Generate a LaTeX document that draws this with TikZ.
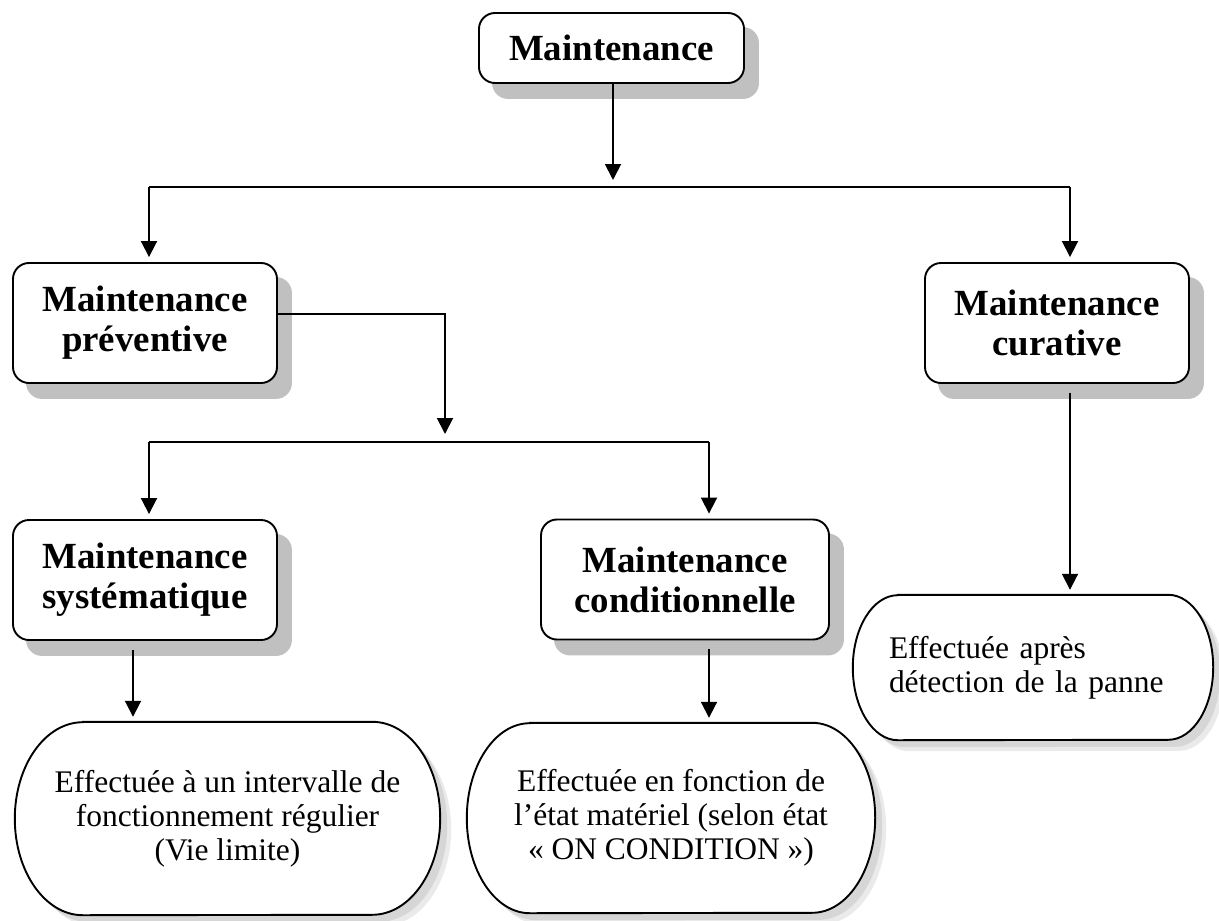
\documentclass[tikz,border=0pt]{standalone}
\usepackage{fontspec}
\setmainfont{Liberation Serif}
\usetikzlibrary{arrows.meta}
\pgfdeclarelayer{background}
\pgfsetlayers{background,main}

% stadium outline around a node: #1 options, #2 node, #3 end x-radius, #4 end y-radius, #5/#6 offset
\newcommand\stadium[6]{%
  \path[#1] ([shift={(#3+#5,#6)}]#2.north west) -- ([shift={(-#3+#5,#6)}]#2.north east)
    arc[start angle=-90,end angle=90,x radius=#3,y radius=#4]
    -- ([shift={(#3+#5,#6)}]#2.south west)
    arc[start angle=90,end angle=270,x radius=#3,y radius=#4] -- cycle;}

\definecolor{boxshadow}{HTML}{C0C0C0}
\definecolor{ovalshadow}{HTML}{D6D6D6}
\definecolor{ovalhaze}{HTML}{EAEAEA}

\begin{document}
\begin{tikzpicture}[x=1bp,y=-1bp,
  box/.style={draw, line width=1.9bp, fill=white, rounded corners=16bp,
    minimum width=264bp, minimum height=120bp, inner sep=0pt, align=center,
    font=\fontsize{37}{40}\selectfont\bfseries},
  ovaltext/.style={inner sep=0pt, align=center,
    font=\fontsize{31.6}{34}\selectfont},
  link/.style={line width=1.9bp},
  arr/.style={link, -{Triangle[width=16bp,length=16bp]}, shorten >=5bp},
  shade/.style={fill=boxshadow, rounded corners=16bp},
]
\useasboundingbox (0,0) rectangle (1219,921);

% boxes
\node[box, minimum width=265bp, minimum height=70bp] (main) at (611.5,48) {Maintenance};
\node[box] (prev) at (145,323) {Maintenance\\préventive};
\node[box] (cur)  at (1057,323) {Maintenance\\curative};
\node[box] (sys)  at (145,580) {Maintenance\\systématique};
\node[box, minimum width=288bp] (cond) at (685,579.5) {Maintenance\\conditionnelle};

% descriptions
\node[ovaltext, minimum width=425bp, minimum height=193bp] (o1) at (227.5,818.5)
  {Effectuée à un intervalle de\\fonctionnement régulier\\(Vie limite)};
\node[ovaltext, minimum width=408bp, minimum height=190bp] (o2) at (671,818)
  {Effectuée en fonction de\\l’état matériel (selon état\\«~ON CONDITION~»)};
\node[ovaltext, minimum width=360bp, minimum height=145bp, text width=288bp, align=left] (o3) at (1033,667.5)
  {Effectuée après\\détection de la panne};

% bus junctions
\coordinate (j1) at (613,187);
\coordinate (bl1) at (149,187);
\coordinate (br1) at (1070,187);
\coordinate (j2) at (445,442);
\coordinate (bl2) at (149,442);
\coordinate (br2) at (709,442);

% connectors
\draw[arr, shorten >=7bp] (main.south -| j1) -- (j1);
\draw[link] (bl1) -- (br1);
\draw[arr] (bl1) -- (bl1 |- prev.north);
\draw[arr] (br1) -- (br1 |- cur.north);
\draw[arr, shorten >=8bp] ([yshift=9bp]prev.east) -| (j2);
\draw[link] (bl2) -- (br2);
\draw[arr] (bl2) -- (bl2 |- sys.north);
\draw[arr] (br2) -- (br2 |- cond.north);
\draw[arr, shorten <=9bp] (cur.south -| br1) -- (br1 |- o3.north);
\draw[arr, shorten <=9bp] ([xshift=-12bp]sys.south) -- ([xshift=-12bp]sys.south |- o1.north);
\draw[arr, shorten <=9bp] (cond.south -| br2) -- (br2 |- o2.north);

\begin{pgfonlayer}{background}
  % drop shadows of the boxes
  \foreach \n in {main,prev,cur,sys,cond}
    \fill[shade] ([shift={(14,15)}]\n.north west) rectangle ([shift={(14,15)}]\n.south east);
  % soft shadows of the description shapes
  \stadium{fill=ovalhaze}{o1}{68}{96.5}{11}{11}
  \stadium{fill=ovalshadow}{o1}{68}{96.5}{7}{7}
  \stadium{fill=ovalhaze}{o2}{63}{95}{11}{11}
  \stadium{fill=ovalshadow}{o2}{63}{95}{7}{7}
  \stadium{fill=ovalhaze}{o3}{45}{72.5}{11}{11}
  \stadium{fill=ovalshadow}{o3}{45}{72.5}{7}{7}
  % description outlines
  \stadium{fill=white, draw, line width=1.9bp}{o1}{68}{96.5}{0}{0}
  \stadium{fill=white, draw, line width=1.9bp}{o2}{63}{95}{0}{0}
  \stadium{fill=white, draw, line width=1.9bp}{o3}{45}{72.5}{0}{0}
\end{pgfonlayer}
\end{tikzpicture}
\end{document}
